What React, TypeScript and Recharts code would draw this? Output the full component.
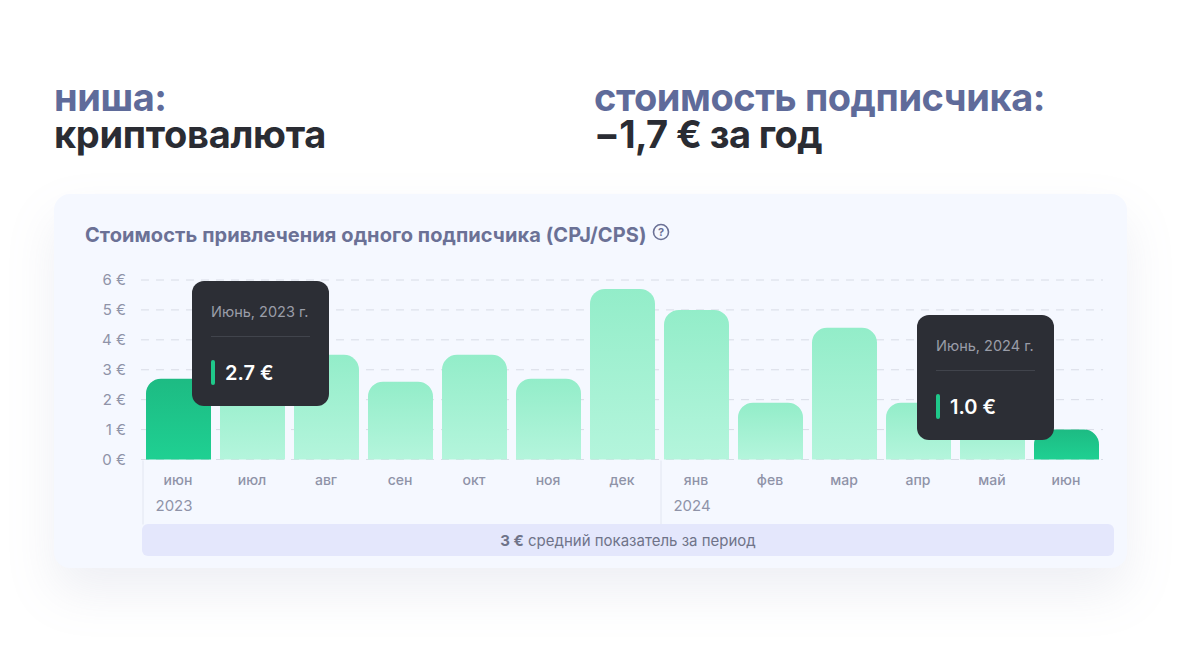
import { Bar, BarChart, CartesianGrid, Cell, XAxis, YAxis } from "recharts";

const months = ["июн", "июл", "авг", "сен", "окт", "ноя", "дек", "янв", "фев", "мар", "апр", "май", "июн"];
const years = ["2023", "", "", "", "", "", "", "2024", "", "", "", "", ""];
const cost = [2.7, 2.8, 3.5, 2.6, 3.5, 2.7, 5.7, 5.0, 1.9, 4.4, 1.9, 1.5, 1.0];
const highlighted = [0, 12];
const yTicks = [0, 1, 2, 3, 4, 5, 6];

const chartData = months.map((month, i) => ({ key: i, month, year: years[i], cost: cost[i] }));

const font = "Inter, sans-serif";

function MonthTick({ x, y, payload }: any) {
  const year = years[payload.index];
  return (
    <g>
      <text x={x} y={y + 17} textAnchor="middle" fontSize={14} fontWeight={500} fill="#8f93a8" fontFamily={font}>
        {months[payload.index]}
      </text>
      {year && (
        <>
          <text x={x - 4} y={y + 43} textAnchor="middle" fontSize={15} fill="#8f93a8" fontFamily={font}>
            {year}
          </text>
          <line x1={x - 35} x2={x - 35} y1={y - 7} y2={y + 57} stroke="#e2e6f1" />
        </>
      )}
    </g>
  );
}

function Hint({ left, top, title, value }: { left: number; top: number; title: string; value: string }) {
  return (
    <div style={{ position: "absolute", left, top, width: 137, height: 125, background: "#2c2e35", borderRadius: 12, boxSizing: "border-box", padding: "0 19px", fontFamily: font }}>
      <div style={{ marginTop: 22, paddingBottom: 15, fontSize: 14.5, lineHeight: "18px", color: "#9a9da8", borderBottom: "1px solid #41444c", whiteSpace: "nowrap" }}>{title}</div>
      <div style={{ display: "flex", alignItems: "center", marginTop: 23 }}>
        <span style={{ width: 4, height: 25, background: "#1fc88a", borderRadius: 2, marginRight: 10 }} />
        <span style={{ fontSize: 20, fontWeight: 600, color: "#fff" }}>{value}</span>
      </div>
    </div>
  );
}

const heading = { position: "absolute", fontSize: 38, lineHeight: "37px", fontWeight: 700, whiteSpace: "nowrap" } as const;

export default function App() {
  return (
    <div style={{ position: "absolute", left: 0, top: 0, width: 1184, height: 649, background: "#fff", overflow: "hidden", fontFamily: font }}>
      <div style={{ ...heading, left: 54, top: 79, color: "#5f6b9a", letterSpacing: -0.45 }}>ниша:</div>
      <div style={{ ...heading, left: 54, top: 116, color: "#2a2c33", letterSpacing: -0.3 }}>криптовалюта</div>
      <div style={{ ...heading, left: 594, top: 79, color: "#5f6b9a", letterSpacing: -0.45 }}>стоимость подписчика:</div>
      <div style={{ ...heading, left: 594, top: 116, color: "#2a2c33", letterSpacing: -0.6 }}>−1,7 € за год</div>

      <div style={{ position: "absolute", left: 54, top: 194, width: 1073, height: 374, background: "#f5f8ff", borderRadius: 16, boxShadow: "0 24px 50px rgba(120,130,170,0.13)" }} />
      <div style={{ position: "absolute", left: 85, top: 222, fontSize: 20, lineHeight: "26px", fontWeight: 700, color: "#6b7196", whiteSpace: "nowrap", letterSpacing: 0.08 }}>Стоимость привлечения одного подписчика (CPJ/CPS)</div>
      <svg style={{ position: "absolute", left: 651, top: 222 }} width={20} height={20}>
        <circle cx={10} cy={10} r={7.5} fill="none" stroke="#6b7196" strokeWidth={1.6} />
        <text x={10} y={14} textAnchor="middle" fontSize={11} fontWeight={700} fill="#6b7196" fontFamily={font}>?</text>
      </svg>

      <div style={{ position: "absolute", left: 0, top: 0 }}>
        <BarChart width={1184} height={649} data={chartData} margin={{ top: 280, right: 81, bottom: 129.5, left: 81 }} barSize={65}>
          <defs>
            <linearGradient id="softBar" x1="0" y1="0" x2="0" y2="1">
              <stop offset="0%" stopColor="#93edc9" />
              <stop offset="100%" stopColor="#b4f5dc" />
            </linearGradient>
            <linearGradient id="strongBar" x1="0" y1="0" x2="0" y2="1">
              <stop offset="0%" stopColor="#1dbb83" />
              <stop offset="100%" stopColor="#1fd092" />
            </linearGradient>
          </defs>
          <CartesianGrid vertical={false} stroke="#d8dce6" strokeDasharray="8 7" />
          <XAxis dataKey="key" type="category" height={60} axisLine={false} tickLine={false} interval={0} tick={<MonthTick />} />
          <YAxis
            width={60}
            domain={[0, 6]}
            ticks={yTicks}
            axisLine={false}
            tickLine={false}
            tickMargin={9}
            tickFormatter={(v: number) => `${v} €`}
            tick={{ fill: "#8f93a8", fontSize: 15, fontFamily: font }}
          />
          <Bar dataKey="cost" radius={[15, 15, 0, 0]} isAnimationActive={false}>
            {chartData.map((d) => (
              <Cell key={d.key} fill={highlighted.includes(d.key) ? "url(#strongBar)" : "url(#softBar)"} />
            ))}
          </Bar>
        </BarChart>
      </div>

      <div style={{ position: "absolute", left: 142, top: 524, width: 972, height: 32, background: "#e4e7fc", borderRadius: 6, textAlign: "center", lineHeight: "33px", fontSize: 15, color: "#6f7389" }}>
        <b style={{ fontWeight: 700 }}>3 €</b> средний показатель за период
      </div>

      <Hint left={192} top={281} title="Июнь, 2023 г." value="2.7 €" />
      <Hint left={917} top={315} title="Июнь, 2024 г." value="1.0 €" />
    </div>
  );
}
